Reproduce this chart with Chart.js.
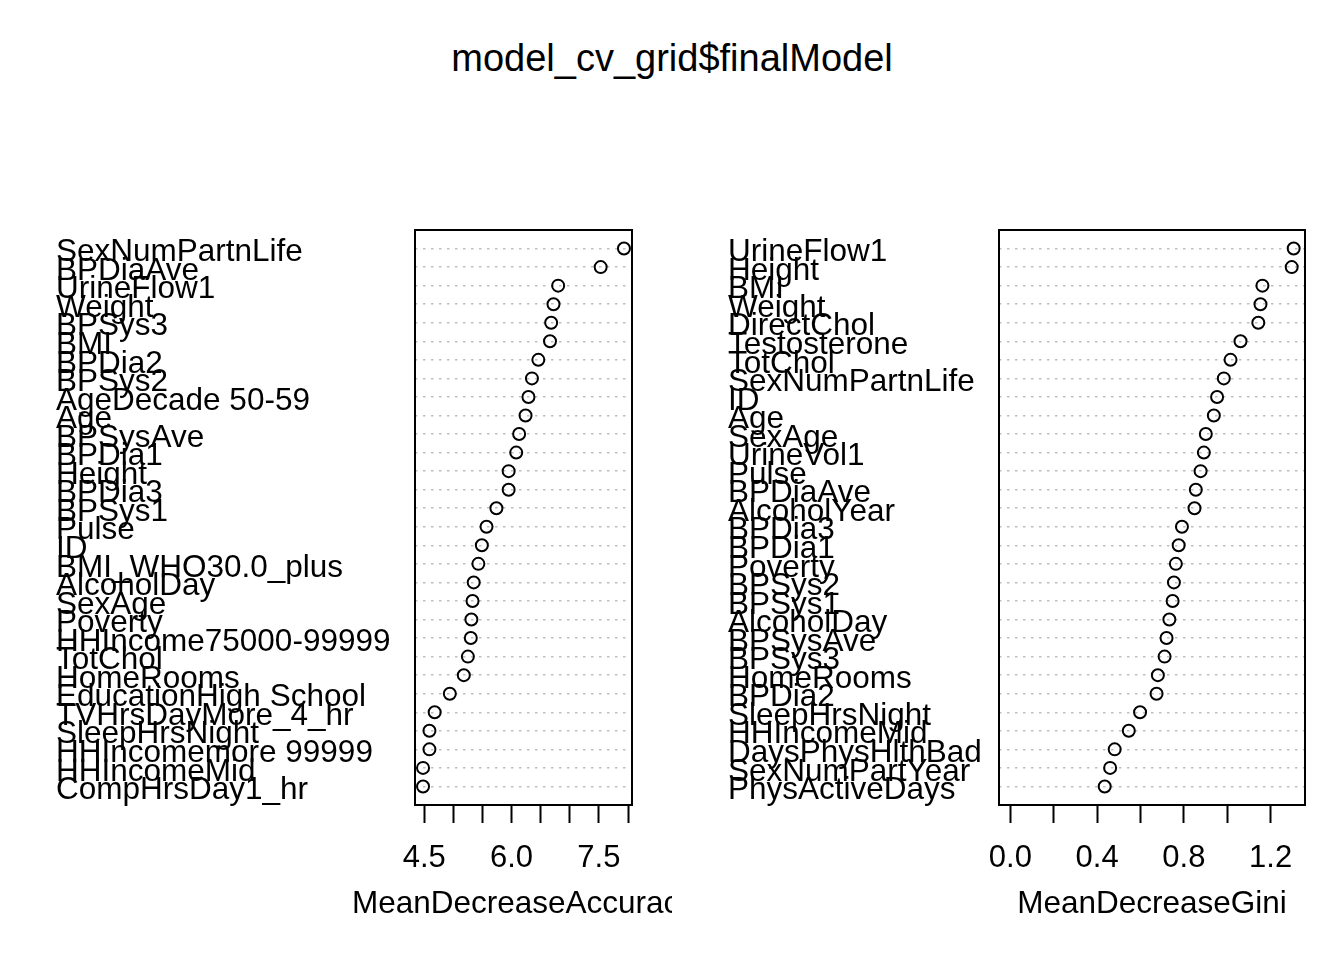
<!DOCTYPE html>
<html>
<head>
<meta charset="utf-8">
<script src="https://cdn.jsdelivr.net/npm/chart.js@4/dist/chart.umd.min.js"></script>
<style>
  html, body { margin: 0; padding: 0; background: #fff; overflow: hidden; }
  #wrap { position: relative; width: 1344px; height: 960px; }
  #title { position: absolute; left: 0; top: 36px; width: 1344px; text-align: center;
           font-family: 'Liberation Sans', Arial, sans-serif; font-size: 38px; line-height: 44px; color: #000; }
  .pane { position: absolute; top: 0; width: 672px; height: 960px; }
</style>
</head>
<body>
<div id="wrap">
  <div id="title">model_cv_grid$finalModel</div>
  <div class="pane" style="left:0"><canvas id="c1" width="672" height="960"></canvas></div>
  <div class="pane" style="left:672px"><canvas id="c2" width="672" height="960"></canvas></div>
</div>
<script>
const accNames = ["SexNumPartnLife","BPDiaAve","UrineFlow1","Weight","BPSys3","BMI","BPDia2","BPSys2",
  "AgeDecade 50-59","Age","BPSysAve","BPDia1","Height","BPDia3","BPSys1","Pulse","ID","BMI_WHO30.0_plus",
  "AlcoholDay","SexAge","Poverty","HHIncome75000-99999","TotChol","HomeRooms","EducationHigh School",
  "TVHrsDayMore_4_hr","SleepHrsNight","HHIncomemore 99999","HHIncomeMid","CompHrsDay1_hr"];
const accValues = [7.93,7.53,6.80,6.72,6.68,6.66,6.46,6.35,6.29,6.24,6.13,6.08,5.95,5.95,5.74,5.57,5.49,5.43,
  5.35,5.33,5.31,5.30,5.25,5.18,4.94,4.68,4.59,4.59,4.48,4.48];
const accTicks = [4.5,5.0,5.5,6.0,6.5,7.0,7.5,8.0];
const accTickLabels = [4.5,6.0,7.5];

const giniNames = ["UrineFlow1","Height","BMI","Weight","DirectChol","Testosterone","TotChol","SexNumPartnLife",
  "ID","Age","SexAge","UrineVol1","Pulse","BPDiaAve","AlcoholYear","BPDia3","BPDia1","Poverty","BPSys2","BPSys1",
  "AlcoholDay","BPSysAve","BPSys3","HomeRooms","BPDia2","SleepHrsNight","HHIncomeMid","DaysPhysHlthBad",
  "SexNumPartYear","PhysActiveDays"];
const giniValues = [1.306,1.297,1.162,1.153,1.143,1.061,1.015,0.984,0.953,0.938,0.901,0.892,0.877,0.855,0.849,
  0.791,0.776,0.763,0.754,0.748,0.733,0.720,0.711,0.680,0.674,0.598,0.546,0.481,0.460,0.435];
const giniTicks = [0.0,0.2,0.4,0.6,0.8,1.0,1.2];
const giniTickLabels = [0.0,0.4,0.8,1.2];

const FONT = "'Liberation Sans', Arial, sans-serif";

const boxPlugin = {
  id: 'box',
  afterDraw(chart) {
    const {ctx, chartArea: a} = chart;
    ctx.save();
    ctx.strokeStyle = '#000';
    ctx.lineWidth = 2;
    ctx.strokeRect(a.left, a.top, a.right - a.left, a.bottom - a.top);
    // x-axis title, centred under the plot box, without width squeezing
    const t = chart.options.plugins.box.xTitle;
    ctx.fillStyle = '#000';
    ctx.font = "31.5px " + FONT;
    ctx.textAlign = 'center';
    ctx.textBaseline = 'middle';
    ctx.fillText(t, (a.left + a.right) / 2, 904);
    ctx.restore();
  }
};

function makeChart(id, names, values, xmin, xmax, ticks, tickLabels, xTitle, yWidth, padRight) {
  const n = names.length;
  const pts = values.map((v, i) => ({x: v, y: n - i}));
  return new Chart(document.getElementById(id), {
    type: 'scatter',
    data: { datasets: [{ data: pts, pointStyle: 'circle', pointRadius: 6, pointHoverRadius: 6,
      borderColor: '#000', backgroundColor: 'rgba(0,0,0,0)', borderWidth: 2 }] },
    plugins: [boxPlugin],
    options: {
      responsive: false, animation: false,
      layout: { padding: { left: 56, right: padRight, top: 230, bottom: 0 } },
      plugins: { legend: { display: false }, tooltip: { enabled: false }, box: { xTitle: xTitle } },
      scales: {
        x: {
          type: 'linear', min: xmin, max: xmax,
          afterBuildTicks: s => { s.ticks = ticks.map(v => ({value: v})); },
          afterFit: s => { s.height = 155; },
          grid: { drawOnChartArea: false, drawTicks: true, tickLength: 18, tickColor: '#000', tickWidth: 2 },
          border: { display: false },
          ticks: {
            autoSkip: false, maxRotation: 0, padding: 17, color: '#000',
            font: { family: FONT, size: 31 },
            callback: v => tickLabels.some(t => Math.abs(t - v) < 1e-9) ? v.toFixed(1) : ''
          },
          title: { display: false }
        },
        y: {
          type: 'linear', min: 0, max: n + 1,
          afterBuildTicks: s => { s.ticks = names.map((_, i) => ({value: n - i})); },
          afterFit: s => { s.width = yWidth; },
          grid: { drawTicks: false, color: '#bebebe', lineWidth: 1.5 },
          border: { display: false, dash: [2.5, 5.5] },
          ticks: {
            autoSkip: false, crossAlign: 'far', color: '#000', padding: 0, labelOffset: 4,
            font: { family: FONT, size: 31.5 },
            callback: v => names[n - v]
          }
        }
      }
    }
  });
}

function rExtend(lo, hi) { const r = hi - lo; return [lo - 0.04 * r, hi + 0.04 * r]; }
const accLim = rExtend(Math.min(...accValues), Math.max(...accValues));
const giniLim = rExtend(0, Math.max(...giniValues));

makeChart('c1', accNames, accValues, accLim[0], accLim[1], accTicks, accTickLabels, 'MeanDecreaseAccuracy', 359, 40);
makeChart('c2', giniNames, giniValues, giniLim[0], giniLim[1], giniTicks, giniTickLabels, 'MeanDecreaseGini', 271, 39);
</script>
</body>
</html>
